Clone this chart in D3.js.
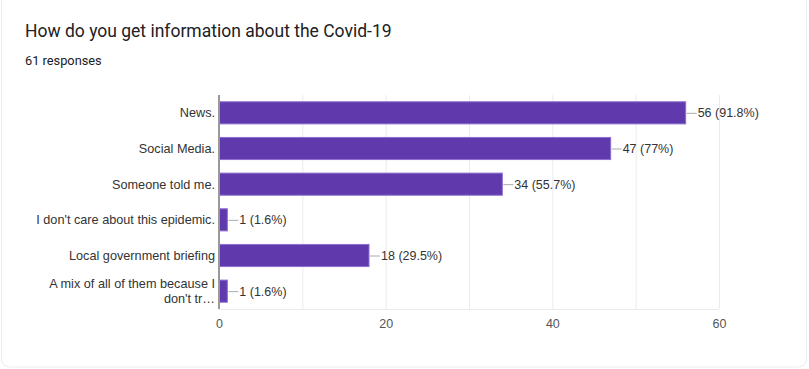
<!DOCTYPE html>
<html>
<head>
<meta charset="utf-8">
<script src="https://cdn.jsdelivr.net/npm/d3@7"></script>
<style>
  body { margin: 0; background: #fff; }
  svg { display: block; }
</style>
</head>
<body>
<div id="chart"></div>
<script>
// answers and how many people picked them
var answers = ["News.", "Social Media.", "Someone told me.", "I don't care about this epidemic.",
  "Local government briefing", "A mix of all of them because I don't tr\u2026"];
var counts = [56, 47, 34, 1, 18, 1];
var percents = ["91.8%", "77%", "55.7%", "1.6%", "29.5%", "1.6%"];
var xTicks = [0, 20, 40, 60];
var gridTicks = [10, 20, 30, 40, 50, 60];

var title = "How do you get information about the Covid-19";
var subtitle = "61 responses";

var labelFont = "'Liberation Sans', Arial, sans-serif";

window.onload = function() {
  drawChart();
};

function drawChart() {
  var canvasWidth = 809,
      canvasHeight = 369,
      margin = { top: 95, right: 90, bottom: 60, left: 219 };

  var svg = d3.select("#chart").append("svg")
    .attr("width", canvasWidth)
    .attr("height", canvasHeight);

  // card outline
  svg.append("rect")
    .attr("x", 1.5).attr("y", -8)
    .attr("width", canvasWidth - 4).attr("height", canvasHeight + 6)
    .attr("rx", 8)
    .attr("fill", "#fff")
    .attr("stroke", "#ececec");

  svg.append("text")
    .attr("x", 25).attr("y", 37)
    .style("font-family", "Roboto, sans-serif")
    .style("font-size", "17.5px")
    .style("fill", "#202124")
    .text(title);

  svg.append("text")
    .attr("x", 25).attr("y", 65)
    .style("font-family", "Roboto, sans-serif")
    .style("font-size", "12.8px")
    .style("fill", "#202124")
    .text(subtitle);

  var xScale = d3.scaleLinear().domain([0, 60]).range([0, 500]);
  var yScale = d3.scaleBand().domain(answers).range([0, 214])
    .paddingInner(0.38).paddingOuter(0.19);

  var g = svg.append("g")
    .attr("transform", "translate(" + margin.left + "," + margin.top + ")");

  // light grid lines
  g.selectAll(".grid")
    .data(gridTicks)
    .enter()
    .append("line")
    .attr("x1", function(d){ return xScale(d) + 0.5 })
    .attr("x2", function(d){ return xScale(d) + 0.5 })
    .attr("y1", 0).attr("y2", 214)
    .attr("stroke", "#ebebeb");

  g.append("line")
    .attr("x1", 0).attr("x2", xScale(60))
    .attr("y1", 214.5).attr("y2", 214.5)
    .attr("stroke", "#ebebeb");

  // bars
  g.selectAll(".bar")
    .data(answers)
    .enter()
    .append("rect")
    .attr("x", 0)
    .attr("y", function(d){ return yScale(d) })
    .attr("width", function(d, i){ return xScale(counts[i]) })
    .attr("height", yScale.bandwidth())
    .attr("fill", "#603aad")
    .attr("stroke", "#8c6fd0")
    .attr("stroke-width", 1);

  // leader lines and value labels
  g.selectAll(".leader")
    .data(answers)
    .enter()
    .append("line")
    .attr("x1", function(d, i){ return xScale(counts[i]) + 1 })
    .attr("x2", function(d, i){ return xScale(counts[i]) + 11 })
    .attr("y1", function(d){ return yScale(d) + yScale.bandwidth() / 2 + 0.5 })
    .attr("y2", function(d){ return yScale(d) + yScale.bandwidth() / 2 + 0.5 })
    .attr("stroke", "#aaa");

  g.selectAll(".value")
    .data(answers)
    .enter()
    .append("text")
    .attr("x", function(d, i){ return xScale(counts[i]) + 12 })
    .attr("y", function(d){ return yScale(d) + yScale.bandwidth() / 2 + 4.5 })
    .style("font-family", labelFont)
    .style("font-size", "12.5px")
    .style("fill", "#333")
    .text(function(d, i){ return counts[i] + " (" + percents[i] + ")" });

  // category labels, long one goes on two lines
  g.selectAll(".label")
    .data(answers)
    .enter()
    .append("text")
    .attr("text-anchor", "end")
    .attr("x", -4)
    .attr("y", function(d){ return yScale(d) + yScale.bandwidth() / 2 + 4.5 })
    .style("font-family", labelFont)
    .style("font-size", "12.7px")
    .style("fill", "#333")
    .each(function(d, i){
      var el = d3.select(this);
      if (i === answers.length - 1) {
        el.append("tspan").attr("x", -4).attr("dy", -8).text("A mix of all of them because I");
        el.append("tspan").attr("x", -4).attr("dy", 15).text("don't tr\u2026");
      } else {
        el.text(d);
      }
    });

  // axis line at zero
  g.append("line")
    .attr("x1", 0).attr("x2", 0)
    .attr("y1", 0).attr("y2", 214)
    .attr("stroke", "#999")
    .attr("stroke-width", 2);

  // x tick labels via axis
  var xAxis = d3.axisBottom(xScale).tickValues(xTicks).tickSize(0).tickPadding(10);
  var ax = g.append("g")
    .attr("transform", "translate(0," + 214 + ")")
    .call(xAxis);
  ax.select(".domain").remove();
  ax.selectAll("text")
    .style("font-family", labelFont)
    .style("font-size", "12.5px")
    .style("fill", "#555");
}
</script>
</body>
</html>
